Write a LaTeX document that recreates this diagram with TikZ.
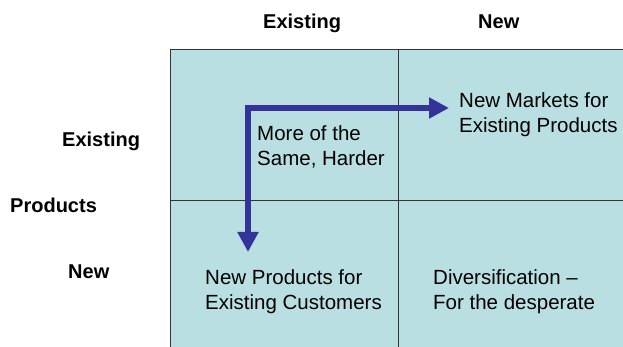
\documentclass[tikz,border=0pt]{standalone}
\usepackage{fontspec}
\setmainfont{Liberation Sans}
\usetikzlibrary{arrows.meta}
\definecolor{cellfill}{RGB}{185,223,226}
\definecolor{gridline}{RGB}{51,51,51}
\definecolor{arrowblue}{RGB}{51,51,153}
\tikzset{
  heading/.style={anchor=base west, inner sep=0pt, font=\fontsize{20}{25}\selectfont\bfseries},
  % anchored at the baseline of the last line
  celltext/.style={anchor=base west, inner sep=0pt, align=left, font=\fontsize{20.5}{25}\selectfont},
  gridrule/.style={draw=gridline, line width=1pt},
  moveto/.style={draw=arrowblue, line width=6pt, line join=miter,
    {Triangle[length=20pt,width=20pt]}-{Triangle[length=20pt,width=20pt]}}
}
\begin{document}
\begin{tikzpicture}[x=1pt,y=-1pt]
  \useasboundingbox (0,0) rectangle (623,347);
  % matrix background and rules
  \fill[cellfill] (170,50) rectangle (630,355);
  \draw[gridrule] (630,50) -- (170,50) -- (170,355);
  \draw[gridrule] (398,50) -- (398,355);
  \draw[gridrule] (170,201) -- (630,201);
  % column headings
  \node[heading] (colexist) at (263,29) {Existing};
  \node[heading] (colnew) at (478,29) {New};
  % row headings
  \node[heading] (rowexist) at (62,147) {Existing};
  \node[heading] (rowlabel) at (10,213) {Products};
  \node[heading] (rownew) at (68,278) {New};
  % cell contents
  \node[celltext] (same) at (257,166) {More of the\\Same, Harder};
  \node[celltext] (markets) at (459,133) {New Markets for\\Existing Products};
  \node[celltext] (products) at (205,309) {New Products for\\Existing Customers};
  \node[celltext] (divers) at (433,309) {Diversification --\\For the desperate};
  % growth directions from the corner of the current position
  \coordinate (corner) at (248,108);
  \coordinate (righttip) at (449,108);
  \coordinate (downtip) at (248,252);
  \draw[moveto] (downtip) -- (corner) -- (righttip);
\end{tikzpicture}
\end{document}
